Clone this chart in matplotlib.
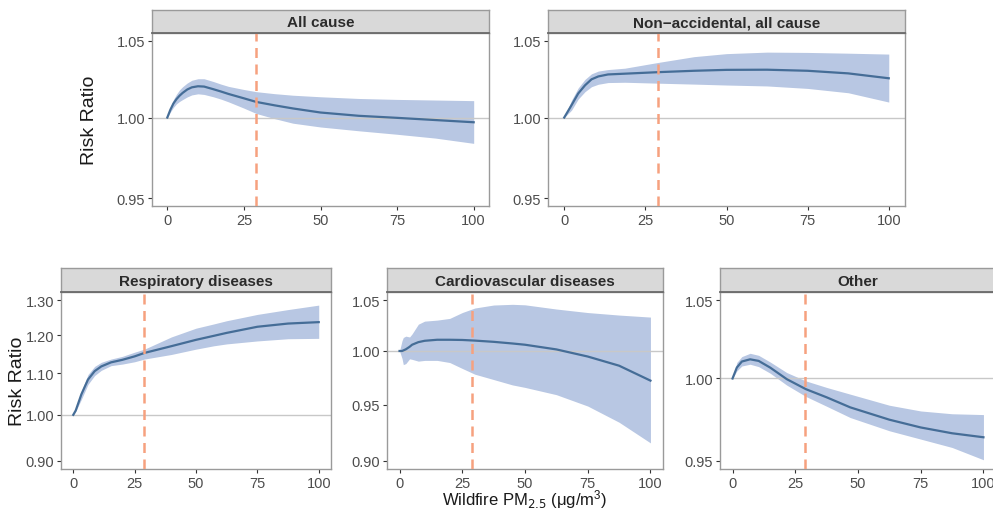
import numpy as np
import matplotlib
matplotlib.use("Agg")
import matplotlib.pyplot as plt
from matplotlib.ticker import FixedLocator, NullLocator, FixedFormatter

plt.rcParams['font.family'] = ['Liberation Sans', 'DejaVu Sans']

# ---- data ----
all_x = [0, 1, 2, 3, 4, 5, 6.5, 8, 10, 12, 15, 17.5, 20, 25, 29, 35, 41, 50, 62.5, 75, 87.5, 100]
all_fit = [1.000, 1.0050, 1.0090, 1.0118, 1.0140, 1.0158, 1.0180, 1.0194, 1.0201, 1.0199, 1.0182, 1.0167,
           1.0151, 1.0123, 1.0100, 1.0078, 1.0058, 1.0032, 1.0011, 0.9998, 0.9984, 0.9970]
all_hi = [1.000, 1.0065, 1.0115, 1.0150, 1.0178, 1.0198, 1.0222, 1.0240, 1.0250, 1.0250, 1.0232, 1.0215,
          1.0200, 1.0180, 1.0166, 1.0153, 1.0143, 1.0133, 1.0122, 1.0116, 1.0112, 1.0108]
all_lo = [1.000, 1.0035, 1.0065, 1.0088, 1.0103, 1.0115, 1.0132, 1.0145, 1.0152, 1.0148, 1.0133, 1.0118,
          1.0100, 1.0060, 1.0026, 0.9993, 0.9964, 0.9940, 0.9916, 0.9894, 0.9870, 0.9837]

nonacc_x = [0, 2.25, 4.3, 6.4, 8.4, 10.5, 13.5, 18.7, 29, 40, 50, 62.5, 75, 87.5, 100]
nonacc_fit = [1.000, 1.0079, 1.0154, 1.0207, 1.0246, 1.0265, 1.0278, 1.0283, 1.0293, 1.0302, 1.0308,
              1.0309, 1.0302, 1.0285, 1.0253]
nonacc_hi = [1.000, 1.0111, 1.0190, 1.0246, 1.0282, 1.0300, 1.0310, 1.0319, 1.0357, 1.0395, 1.0415,
             1.0425, 1.0423, 1.0418, 1.0412]
nonacc_lo = [1.000, 1.0047, 1.0118, 1.0166, 1.0198, 1.0214, 1.0225, 1.0227, 1.0221, 1.0215, 1.0209,
             1.0203, 1.0187, 1.0159, 1.0099]

resp_x = [0, 1, 3.3, 6, 8.7, 11.4, 15.4, 20, 25, 29, 40, 50, 57.3, 62.5, 75, 87.5, 100]
resp_fit = [1.000, 1.010, 1.048, 1.084, 1.105, 1.117, 1.1275, 1.134, 1.143, 1.152, 1.170, 1.187, 1.198,
            1.206, 1.223, 1.232, 1.236]
resp_hi = [1.000, 1.012, 1.056, 1.0965, 1.117, 1.1275, 1.136, 1.143, 1.154, 1.162, 1.195, 1.219, 1.231,
           1.240, 1.258, 1.272, 1.285]
resp_lo = [1.000, 1.008, 1.036, 1.072, 1.094, 1.107, 1.119, 1.123, 1.129, 1.136, 1.148, 1.162, 1.171,
           1.176, 1.184, 1.190, 1.191]

cardio_x = [0, 1, 1.5, 2.5, 4, 5, 7.5, 10, 15, 20, 25, 30, 37.5, 45, 50, 62.5, 75, 87.5, 100]
cardio_fit = [1.000, 1.000, 1.0005, 1.0016, 1.004, 1.006, 1.0085, 1.0098, 1.0108, 1.0108, 1.0106, 1.0100,
              1.0088, 1.0072, 1.0060, 1.0015, 0.9947, 0.9860, 0.9720]
cardio_hi = [1.000, 1.010, 1.013, 1.0143, 1.0135, 1.0165, 1.026, 1.029, 1.030, 1.0317, 1.0375, 1.0420,
             1.0450, 1.0457, 1.0452, 1.0410, 1.0375, 1.0350, 1.0330]
cardio_lo = [1.000, 0.9928, 0.987, 0.988, 0.9925, 0.992, 0.9903, 0.991, 0.991, 0.989, 0.9834, 0.978,
             0.973, 0.968, 0.9657, 0.959, 0.9486, 0.934, 0.9157]

other_x = [0, 1.7, 3.7, 7.0, 10.4, 15, 21.6, 29.2, 37.6, 46.9, 62.5, 75, 87.5, 100]
other_fit = [1.000, 1.0068, 1.0106, 1.0120, 1.0110, 1.0068, 0.9996, 0.9934, 0.9883, 0.9822, 0.9747,
             0.9700, 0.9665, 0.9641]
other_hi = [1.000, 1.0100, 1.0137, 1.0158, 1.0145, 1.0103, 1.0037, 0.9985, 0.9944, 0.9903, 0.9835,
            0.9800, 0.9783, 0.9778]
other_lo = [1.000, 1.0047, 1.0078, 1.0089, 1.0074, 1.0033, 0.9959, 0.9889, 0.9828, 0.9760, 0.9680,
            0.9630, 0.9580, 0.9507]

titles = ["All cause", "Non\u2212accidental, all cause", "Respiratory diseases",
          "Cardiovascular diseases", "Other"]
y_ticks = [[0.95, 1.00, 1.05], [0.95, 1.00, 1.05], [0.90, 1.00, 1.10, 1.20, 1.30],
           [0.90, 0.95, 1.00, 1.05], [0.95, 1.00, 1.05]]
y_limits = [(0.95, 1.05), (0.95, 1.05), (0.90, 1.30), (0.90, 1.05), (0.95, 1.05)]
x_ticks = [0, 25, 50, 75, 100]
cutoff = 29

series = [(all_x, all_fit, all_lo, all_hi),
          (nonacc_x, nonacc_fit, nonacc_lo, nonacc_hi),
          (resp_x, resp_fit, resp_lo, resp_hi),
          (cardio_x, cardio_fit, cardio_lo, cardio_hi),
          (other_x, other_fit, other_lo, other_hi)]

# panel boxes in pixels: left, right, strip top, strip bottom, plot bottom
W, H = 993, 510
boxes = [(152, 489, 11, 34, 207),
         (548, 905, 11, 34, 207),
         (61, 331, 269, 293, 470),
         (387, 663, 269, 293, 470),
         (720, 996, 269, 293, 470)]

fig = plt.figure(figsize=(W / 100, H / 100), dpi=100)

band_col = "#b8c7e3"
line_col = "#456d97"
dash_col = "#f6a17f"
border_col = "#9a9a9a"
tick_col = "#4d4d4d"

for i, (l, r, st, sb, pb) in enumerate(boxes):
    ax = fig.add_axes([l / W, 1 - pb / H, (r - l) / W, (pb - sb) / H])
    sx = fig.add_axes([l / W, 1 - sb / H, (r - l) / W, (sb - st) / H])

    x, fit, lo, hi = series[i]
    ax.fill_between(x, lo, hi, color=band_col, lw=0, zorder=1)
    ax.axhline(1.0, color="#c8c8c8", lw=1.0, zorder=2)
    ax.plot(x, fit, color=line_col, lw=1.6, zorder=3, solid_joinstyle="round")
    ax.axvline(cutoff, color=dash_col, lw=1.8, ls=(0, (4, 2.6)), zorder=4)

    ax.set_yscale("log")
    lo_lim, hi_lim = np.log(y_limits[i][0]), np.log(y_limits[i][1])
    pad = (hi_lim - lo_lim) * 0.05
    ax.set_ylim(np.exp(lo_lim - pad), np.exp(hi_lim + pad))
    ax.set_xlim(-5, 105)
    ax.yaxis.set_major_locator(FixedLocator(y_ticks[i]))
    ax.yaxis.set_major_formatter(FixedFormatter(["%.2f" % v for v in y_ticks[i]]))
    ax.yaxis.set_minor_locator(NullLocator())
    ax.set_xticks(x_ticks)
    ax.tick_params(axis="both", colors="#333333", labelcolor=tick_col, labelsize=10.5,
                   length=3, width=0.8, pad=2)
    for s in ax.spines.values():
        s.set_color(border_col)
        s.set_linewidth(1.0)

    sx.set_facecolor("#d9d9d9")
    sx.set_xticks([])
    sx.set_yticks([])
    for s in sx.spines.values():
        s.set_color(border_col)
        s.set_linewidth(1.0)
    sx.spines["bottom"].set_color("#6a6a6a")
    sx.spines["bottom"].set_linewidth(1.3)
    sx.text(0.5, 0.47, titles[i], ha="center", va="center", fontsize=11,
            fontweight="bold", color="#2b2b2b", transform=sx.transAxes)

    if i in (0, 2):
        ax.set_ylabel("Risk Ratio", fontsize=14, color="#1a1a1a")
        ax.yaxis.set_label_coords((98 - l) / (r - l) if i == 0 else (26 - l) / (r - l), 0.5)

fig.text(525 / W, 1 - 505 / H, r"Wildfire PM$_{2.5}$ ($\mathregular{\mu g/m^3}$)",
         ha="center", va="baseline", fontsize=12, color="#1a1a1a")

fig.savefig("out.png", dpi=100)
